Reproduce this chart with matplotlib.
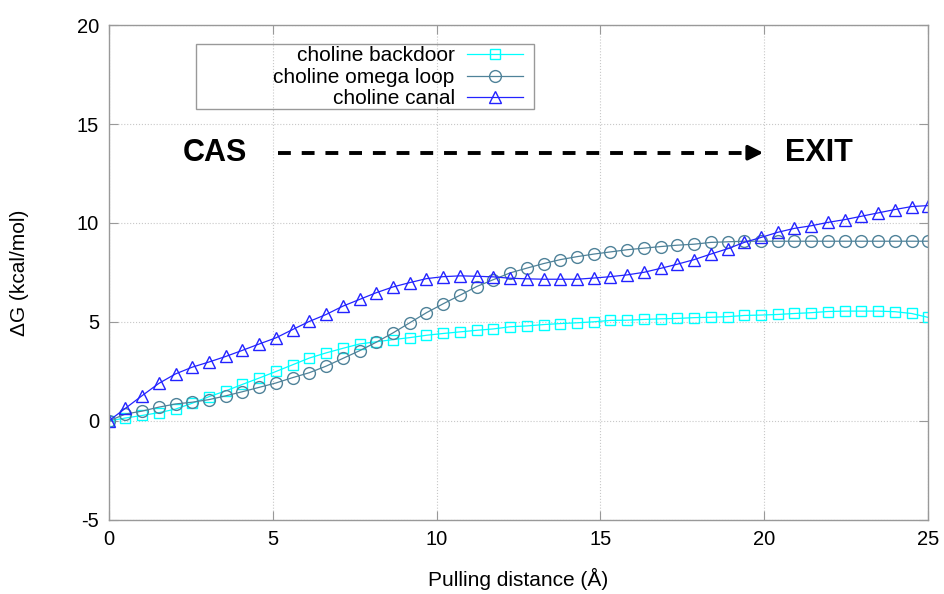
import matplotlib
matplotlib.use("Agg")
import matplotlib.pyplot as plt
from matplotlib.patches import Rectangle

plt.rcParams["font.family"] = ["Liberation Sans", "DejaVu Sans"]
plt.rcParams["axes.unicode_minus"] = False

# pulling distance samples (A)
distance = [0.0, 0.510, 1.020, 1.531, 2.041, 2.551, 3.061, 3.571, 4.082, 4.592,
            5.102, 5.612, 6.122, 6.633, 7.143, 7.653, 8.163, 8.673, 9.184, 9.694,
            10.204, 10.714, 11.224, 11.735, 12.245, 12.755, 13.265, 13.776, 14.286, 14.796,
            15.306, 15.816, 16.327, 16.837, 17.347, 17.857, 18.367, 18.878, 19.388, 19.898,
            20.408, 20.918, 21.429, 21.939, 22.449, 22.959, 23.469, 23.980, 24.490, 25.0]

# free energy profiles (kcal/mol)
backdoor = [0.00, 0.15, 0.28, 0.42, 0.60, 0.90, 1.23, 1.52, 1.85, 2.17,
            2.50, 2.84, 3.18, 3.44, 3.67, 3.89, 4.00, 4.11, 4.21, 4.33,
            4.42, 4.50, 4.58, 4.65, 4.76, 4.80, 4.87, 4.92, 4.96, 5.01,
            5.08, 5.09, 5.13, 5.16, 5.18, 5.22, 5.24, 5.27, 5.33, 5.35,
            5.38, 5.43, 5.47, 5.53, 5.55, 5.55, 5.55, 5.52, 5.43, 5.23]
omega_loop = [0.00, 0.35, 0.50, 0.70, 0.86, 0.95, 1.08, 1.27, 1.48, 1.70,
              1.92, 2.19, 2.44, 2.77, 3.16, 3.55, 3.98, 4.45, 4.96, 5.47,
              5.92, 6.35, 6.79, 7.14, 7.48, 7.72, 7.95, 8.15, 8.30, 8.43,
              8.54, 8.65, 8.73, 8.81, 8.88, 8.93, 9.02, 9.05, 9.08, 9.08,
              9.08, 9.08, 9.08, 9.08, 9.08, 9.08, 9.08, 9.08, 9.08, 9.08]
canal = [0.00, 0.64, 1.28, 1.90, 2.38, 2.72, 2.98, 3.26, 3.57, 3.89,
         4.20, 4.62, 5.03, 5.38, 5.80, 6.14, 6.48, 6.77, 6.99, 7.19,
         7.29, 7.33, 7.31, 7.28, 7.21, 7.18, 7.16, 7.16, 7.16, 7.22,
         7.29, 7.38, 7.51, 7.71, 7.92, 8.15, 8.43, 8.70, 9.02, 9.27,
         9.53, 9.73, 9.86, 10.03, 10.17, 10.34, 10.51, 10.68, 10.83, 10.88]

labels = ["choline backdoor", "choline omega loop", "choline canal"]
xticks = [0, 5, 10, 15, 20, 25]
yticks = [-5, 0, 5, 10, 15, 20]

fig = plt.figure(figsize=(9.45, 5.94), dpi=100)
ax = fig.add_axes([0.115, 0.1246, 0.8673, 0.8333])

ax.plot(distance, backdoor, "-s", color="#00ffff", lw=0.9, ms=7.5, mfc="none", mew=1.0, label=labels[0])
ax.plot(distance, omega_loop, "-o", color="#4f8299", lw=0.9, ms=8.5, mfc="none", mew=1.0, label=labels[1])
ax.plot(distance, canal, "-^", color="#2323ff", lw=0.9, ms=8.5, mfc="none", mew=1.0, label=labels[2])

ax.set_xlim(0, 25)
ax.set_ylim(-5, 20)
ax.set_xticks(xticks)
ax.set_yticks(yticks)
ax.grid(True, linestyle=":", color="#c8c8c8", lw=0.8)
ax.tick_params(direction="in", length=6.5, color="#999999", labelsize=14.5,
               top=True, right=True, pad=7)
for s in ax.spines.values():
    s.set_color("#999999")
    s.set_linewidth(1.0)

ax.set_xlabel("Pulling distance (Å)", fontsize=15, labelpad=14)
ax.set_ylabel("ΔG (kcal/mol)", fontsize=15, labelpad=34)

# CAS -> EXIT annotation
ax.text(3.24, 13.55, "CAS", fontsize=22, fontweight="bold", ha="center", va="center")
ax.text(21.65, 13.55, "EXIT", fontsize=22, fontweight="bold", ha="center", va="center")
ax.plot([5.17, 19.6], [13.55, 13.55], color="black", lw=2.8, dashes=(3.3, 2.8))
ax.annotate("", xy=(20.05, 13.55), xytext=(19.5, 13.55),
            arrowprops=dict(arrowstyle="-|>", color="black", lw=2.5, mutation_scale=22))

# legend: text right-aligned, handle on the right, framed box
leg = ax.legend(loc="upper right", bbox_to_anchor=(0.506, 0.9566), frameon=False,
                markerfirst=False, fontsize=15, handlelength=2.7, handletextpad=0.6,
                labelspacing=0.12, borderpad=0, borderaxespad=0)
ax.add_patch(Rectangle((0.1065, 0.830), 0.4125, 0.1316, transform=ax.transAxes,
                       fill=False, edgecolor="#999999", lw=1.0, zorder=5))

fig.savefig("out.png", dpi=100)
